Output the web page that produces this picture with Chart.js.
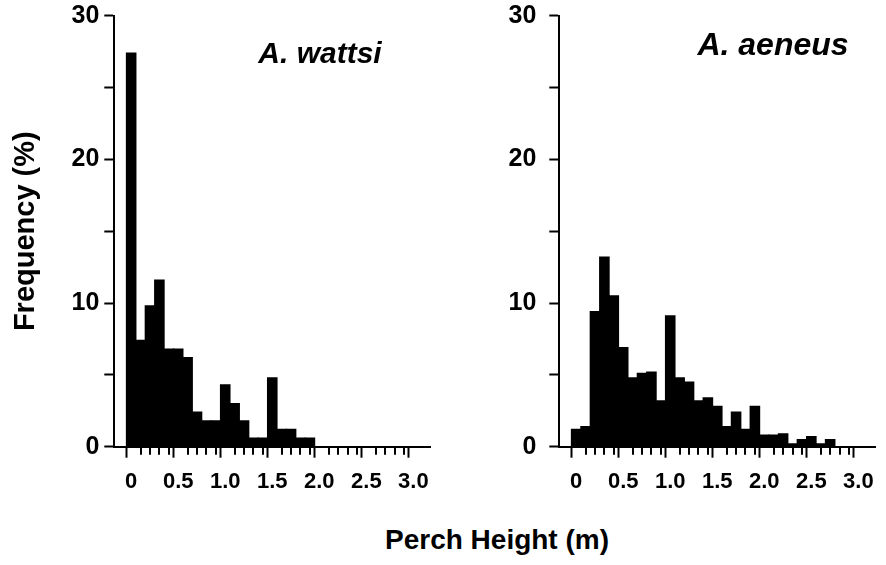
<!DOCTYPE html>
<html>
<head>
<meta charset="utf-8">
<script src="https://cdn.jsdelivr.net/npm/chart.js@4.4.0/dist/chart.umd.min.js"></script>
<style>
  html, body { margin: 0; padding: 0; background: #fff; }
  #wrap { position: relative; width: 886px; height: 565px; overflow: hidden; }
  canvas { position: absolute; top: 0; }
  #xTitle {
    position: absolute; left: 497px; top: 526px; transform: translateX(-50%);
    font: bold 28px "Liberation Sans", Arial, sans-serif; line-height: 27px;
    white-space: nowrap; color: #000;
  }
</style>
</head>
<body>
<div id="wrap">
  <canvas id="wattsiCanvas" width="445" height="520" style="left:0"></canvas>
  <canvas id="aeneusCanvas" width="441" height="520" style="left:445px"></canvas>
  <div id="xTitle">Perch Height (m)</div>
</div>
<script>
// perch height bins (m), bar centred on each value
const wattsiBins = [0, 0.1, 0.2, 0.3, 0.4, 0.5, 0.6, 0.7, 0.8, 0.9, 1.0, 1.1, 1.2, 1.3, 1.4, 1.5, 1.6, 1.7, 1.8, 1.9];
const wattsiFreq = [27.4, 7.4, 9.8, 11.6, 6.8, 6.8, 6.2, 2.4, 1.8, 1.8, 4.3, 3.0, 1.8, 0.6, 0.6, 4.8, 1.2, 1.2, 0.6, 0.6];

const aeneusBins = [0, 0.1, 0.2, 0.3, 0.4, 0.5, 0.6, 0.7, 0.8, 0.9, 1.0, 1.1, 1.2, 1.3, 1.4, 1.5, 1.6, 1.7, 1.8, 1.9,
  2.0, 2.1, 2.2, 2.3, 2.4, 2.5, 2.6, 2.7];
const aeneusFreq = [1.2, 1.4, 9.4, 13.2, 10.5, 6.9, 4.8, 5.1, 5.2, 3.2, 9.1, 4.8, 4.5, 3.2, 3.4, 2.8, 1.4, 2.4, 1.2, 2.8,
  0.8, 0.8, 0.9, 0.2, 0.5, 0.7, 0.2, 0.5];

const xLabelValues = [0, 0.5, 1.0, 1.5, 2.0, 2.5, 3.0];
const xLabelText = ['0', '0.5', '1.0', '1.5', '2.0', '2.5', '3.0'];
const yLabelValues = [0, 10, 20, 30];
const yLabelText = ['0', '10', '20', '30'];

const FONT = '"Liberation Sans", Arial, sans-serif';

function labelFor(v, values, texts) {
  const i = values.findIndex((t) => Math.abs(t - v) < 1e-6);
  return i >= 0 ? texts[i] : '';
}
function isMajorX(v) {
  return xLabelValues.some((t) => Math.abs(t - v) < 1e-6);
}

// species name inside the plot + short minor ticks on x
const decor = {
  id: 'decor',
  afterDraw(chart, args, opts) {
    const ctx = chart.ctx;
    const xs = chart.scales.x;
    ctx.save();
    ctx.strokeStyle = '#000';
    ctx.lineWidth = 2;
    xs.ticks.forEach((t) => {
      if (isMajorX(t.value)) return;
      const px = Math.round(xs.getPixelForValue(t.value));
      ctx.beginPath();
      ctx.moveTo(px, xs.top);
      ctx.lineTo(px, xs.top + 8);
      ctx.stroke();
    });
    ctx.font = 'italic bold ' + opts.size + 'px ' + FONT;
    ctx.fillStyle = '#000';
    ctx.textAlign = 'center';
    ctx.textBaseline = 'alphabetic';
    ctx.fillText(opts.text, opts.x, opts.y);
    ctx.restore();
  }
};

function makeChart(id, bins, freq, o) {
  const data = bins.map((b, i) => ({ x: b, y: freq[i] }));
  return new Chart(document.getElementById(id), {
    type: 'bar',
    data: {
      datasets: [{
        data,
        backgroundColor: '#000',
        borderWidth: 0,
        barPercentage: 1,
        categoryPercentage: 1,
        inflateAmount: 0.6
      }]
    },
    plugins: [decor],
    options: {
      responsive: false,
      animation: false,
      devicePixelRatio: 1,
      layout: { padding: { left: 0, top: 15.7, right: o.padRight, bottom: 13.3 } },
      plugins: {
        legend: { display: false },
        tooltip: { enabled: false },
        decor: o.title
      },
      scales: {
        x: {
          type: 'linear',
          min: -0.125,
          max: 3.13,
          afterBuildTicks: (s) => { s.ticks = s.ticks.filter((t) => t.value > -1e-6 && t.value < 3.0 + 1e-6); },
          afterFit: (s) => { s.height = 60; s.paddingLeft = 0; s.paddingRight = 0; },
          border: { display: true, color: '#000', width: 2 },
          grid: {
            drawOnChartArea: false, drawTicks: true, tickLength: 11, tickWidth: 2,
            tickColor: (c) => (c.tick && isMajorX(c.tick.value) ? '#000' : 'rgba(0,0,0,0)')
          },
          ticks: {
            stepSize: 0.1, includeBounds: false, autoSkip: false, maxRotation: 0,
            padding: 11, color: '#000',
            font: { family: FONT, size: 22, weight: 'bold' },
            callback: (v) => labelFor(v, xLabelValues, xLabelText)
          }
        },
        y: {
          min: 0,
          max: 30,
          afterFit: (s) => { s.width = 114.3; s.paddingTop = 0; s.paddingBottom = 0; },
          border: { display: true, color: '#000', width: 2 },
          grid: { drawOnChartArea: false, drawTicks: true, tickLength: 10, tickWidth: 2, tickColor: '#000' },
          ticks: {
            stepSize: 5, padding: o.yPad, color: '#000',
            font: { family: FONT, size: 25, weight: 'bold' },
            callback: (v) => labelFor(v, yLabelValues, yLabelText)
          },
          title: o.yTitle
        }
      }
    }
  });
}

makeChart('wattsiCanvas', wattsiBins, wattsiFreq, {
  padRight: 14.3,
  yPad: 5,
  title: { text: 'A. wattsi', x: 320, y: 63, size: 30 },
  yTitle: {
    display: true, text: 'Frequency (%)', color: '#000', padding: { top: 9, bottom: 0 },
    font: { family: FONT, size: 29, weight: 'bold' }
  }
});

makeChart('aeneusCanvas', aeneusBins, aeneusFreq, {
  padRight: 10.3,
  yPad: 13,
  title: { text: 'A. aeneus', x: 328, y: 55, size: 32 },
  yTitle: { display: false }
});
</script>
</body>
</html>
